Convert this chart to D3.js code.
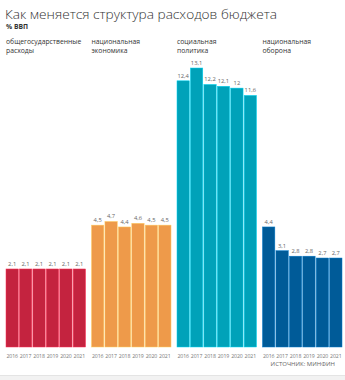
<!DOCTYPE html>
<html>
<head>
<meta charset="utf-8">
<script src="https://cdn.jsdelivr.net/npm/d3@7"></script>
<style>
  body { margin: 0; background: #fff; }
  svg text { font-family: "Open Sans", "Noto Sans", sans-serif; }
</style>
</head>
<body>
<div id="chart"></div>
<script>
var years = ['2016', '2017', '2018', '2019', '2020', '2021'];
var groups = ['general', 'economy', 'social', 'defence'];
var groupLabels = [
  ['общегосударственные', 'расходы'],
  ['национальная', 'экономика'],
  ['социальная', 'политика'],
  ['национальная', 'оборона']
];
var groupColors = ['#c4233f', '#ee9a4a', '#00a2b9', '#005b98'];
var general = [2.1, 2.1, 2.1, 2.1, 2.1, 2.1];
var economy = [4.5, 4.7, 4.4, 4.6, 4.5, 4.5];
var social  = [12.4, 13.1, 12.2, 12.1, 12.0, 11.6];
var defence = [4.4, 3.1, 2.8, 2.8, 2.7, 2.7];
var series = [general, economy, social, defence];

var width = 345, height = 380;
var svg = d3.select('#chart').append('svg')
  .attr('width', width).attr('height', height);

// header
svg.append('text')
  .attr('x', 5).attr('y', 19)
  .attr('font-size', 13.6).attr('font-weight', 300)
  .attr('fill', '#333')
  .attr('textLength', 272).attr('lengthAdjust', 'spacingAndGlyphs')
  .text('Как меняется структура расходов бюджета');
svg.append('text')
  .attr('x', 6).attr('y', 29)
  .attr('font-size', 6.8).attr('font-weight', 700)
  .attr('fill', '#333')
  .text('% ВВП');

var base = 347;
var y = d3.scaleLinear().domain([-2.17, 13.1]).range([base, 68]);

var panel = d3.scaleBand().domain(groups).range([6, 342]).paddingInner(0.07).paddingOuter(0);
var x = d3.scaleBand().domain(years).range([0, panel.bandwidth()]).paddingInner(0.08);

var fmt = function(v) { return String(v).replace('.', ','); };

groups.forEach(function(g, i) {
  var gx = panel(g);
  var gEl = svg.append('g').attr('transform', 'translate(' + gx + ',0)');

  gEl.selectAll('text.cat')
    .data(groupLabels[i])
    .enter().append('text')
    .attr('class', 'cat')
    .attr('x', 0).attr('y', function(d, k) { return 44 + k * 8.5; })
    .attr('font-size', 6.8).attr('fill', '#333')
    .text(function(d) { return d; });

  var data = series[i].map(function(v, k) { return { year: years[k], value: v }; });

  gEl.selectAll('rect')
    .data(data)
    .enter().append('rect')
    .attr('x', function(d) { return x(d.year); })
    .attr('y', function(d) { return y(d.value); })
    .attr('width', x.bandwidth())
    .attr('height', function(d) { return base - y(d.value); })
    .attr('fill', groupColors[i])
    .attr('stroke', d3.color(groupColors[i]).brighter(0.8))
    .attr('stroke-width', 0.5);

  gEl.selectAll('text.val')
    .data(data)
    .enter().append('text')
    .attr('class', 'val')
    .attr('x', function(d) { return x(d.year) + x.bandwidth() / 2; })
    .attr('y', function(d) { return y(d.value) - 3; })
    .attr('text-anchor', 'middle')
    .attr('font-size', 5.8).attr('fill', '#666')
    .text(function(d) { return fmt(d.value); });

  var axis = d3.axisBottom(x).tickSize(0).tickPadding(0);
  var ax = gEl.append('g').attr('transform', 'translate(0,' + (base + 11) + ')').call(axis);
  ax.select('.domain').remove();
  ax.selectAll('text').attr('font-size', 5.2).attr('fill', '#777').attr('dy', 0)
    .attr('letter-spacing', -0.1);
});

svg.append('text')
  .attr('x', 335).attr('y', 366)
  .attr('text-anchor', 'end')
  .attr('font-size', 6).attr('fill', '#666')
  .text('ИСТОЧНИК: МИНФИН');

svg.append('rect')
  .attr('x', 0).attr('y', 375).attr('width', width).attr('height', 5)
  .attr('fill', '#f2f2f2');
svg.append('line')
  .attr('x1', 0).attr('x2', width).attr('y1', 375.5).attr('y2', 375.5)
  .attr('stroke', '#e4e4e4');
</script>
</body>
</html>
